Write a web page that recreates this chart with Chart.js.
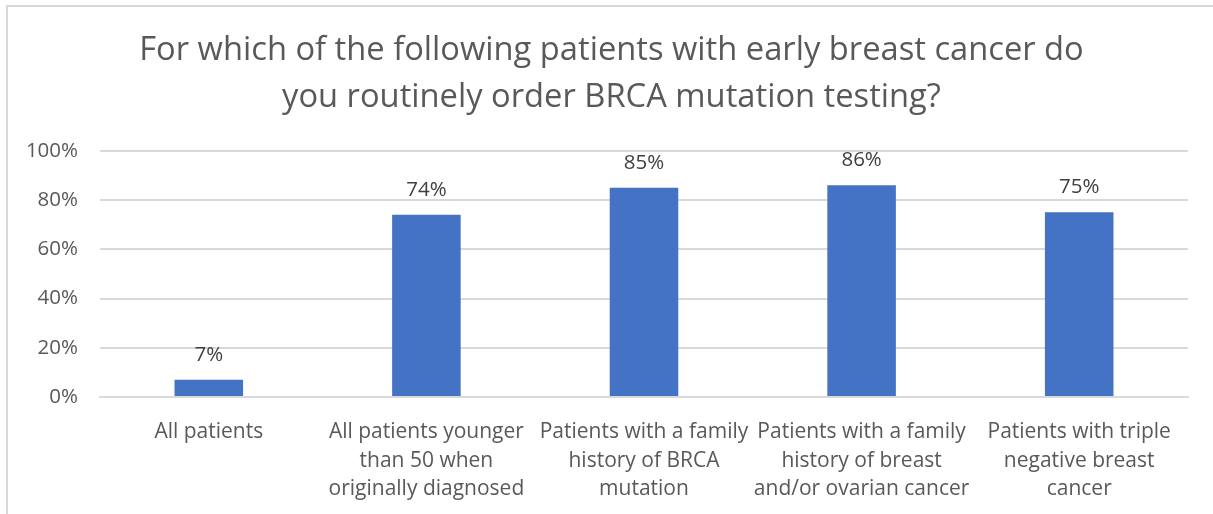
<!DOCTYPE html>
<html>
<head>
<meta charset="utf-8">
<script src="https://cdn.jsdelivr.net/npm/chart.js@4/dist/chart.umd.min.js"></script>
<style>
  html, body { margin: 0; padding: 0; background: #ffffff; overflow: hidden; }
  #frame { position: absolute; left: 6px; top: 5px; width: 1220px; height: 530px; border: 2px solid #d9d9d9; box-sizing: border-box; }
  #wrap { position: absolute; left: 0; top: 0; width: 1205px; height: 507px; }
</style>
</head>
<body>
<div id="frame"><div id="wrap"><canvas id="c"></canvas></div></div>
<script>
const titleLines = ["For which of the following patients with early breast cancer do", "you routinely order BRCA mutation testing?"];
const categories = [
  ["All patients"],
  ["All patients younger", "than 50 when", "originally diagnosed"],
  ["Patients with a family", "history of BRCA", "mutation"],
  ["Patients with a family", "history of breast", "and/or ovarian cancer"],
  ["Patients with triple", "negative breast", "cancer"]
];
const values = [7, 74, 85, 86, 75];
const yTicks = [0, 20, 40, 60, 80, 100];

const FONT = "'Open Sans', 'Liberation Sans', sans-serif";

const dataLabels = {
  id: 'dataLabels',
  afterDatasetsDraw(chart) {
    const ctx = chart.ctx;
    const meta = chart.getDatasetMeta(0);
    ctx.save();
    ctx.font = "20.5px " + FONT;
    ctx.fillStyle = "#404040";
    ctx.textAlign = "center";
    ctx.textBaseline = "middle";
    meta.data.forEach((bar, i) => {
      ctx.fillText(values[i] + "%", bar.x, bar.y - 25);
    });
    ctx.restore();
  }
};

// centre the title on the whole chart frame rather than the padded box
const centerTitle = {
  id: 'centerTitle',
  afterLayout(chart) {
    if (chart.titleBlock) {
      chart.titleBlock.left = 0;
      chart.titleBlock.right = 1207;
      chart.titleBlock.width = 1207;
    }
  }
};

new Chart(document.getElementById('c'), {
  type: 'bar',
  data: {
    labels: categories,
    datasets: [{
      data: values,
      backgroundColor: '#4472c4',
      borderWidth: 0,
      barPercentage: 0.315,
      categoryPercentage: 1.0
    }]
  },
  options: {
    responsive: true,
    maintainAspectRatio: false,
    animation: false,
    layout: { padding: { left: 0, right: 25, top: 0, bottom: 0 } },
    plugins: {
      legend: { display: false },
      tooltip: { enabled: false },
      title: {
        display: true,
        text: titleLines,
        color: '#595959',
        font: { family: FONT, size: 32.7, weight: 'normal', lineHeight: 1.45 },
        padding: { top: 20, bottom: 29 }
      }
    },
    scales: {
      x: {
        afterFit(axis) { axis.height = 117; },
        grid: { display: false, drawTicks: false },
        border: { display: true, color: '#d9d9d9', width: 2 },
        ticks: {
          color: '#595959',
          font: { family: FONT, size: 21, lineHeight: 1.36 },
          padding: 21,
          maxRotation: 0,
          autoSkip: false
        }
      },
      y: {
        min: 0,
        max: 100,
        afterBuildTicks(axis) { axis.ticks = yTicks.map(v => ({ value: v })); },
        afterFit(axis) { axis.width = 92; },
        grid: { color: '#d9d9d9', lineWidth: 2, drawTicks: false },
        border: { display: false },
        ticks: {
          color: '#595959',
          font: { family: FONT, size: 20.5 },
          padding: 22,
          callback: v => v + '%'
        }
      }
    }
  },
  plugins: [dataLabels, centerTitle]
});
</script>
</body>
</html>
